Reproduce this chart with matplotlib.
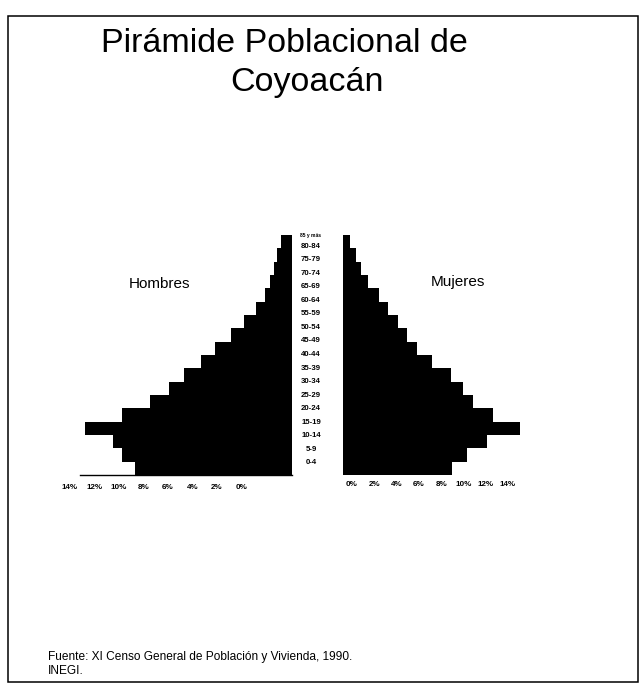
import matplotlib
matplotlib.use("Agg")
import matplotlib.pyplot as plt
from matplotlib.patches import Rectangle

plt.rcParams['font.family'] = ['Liberation Sans', 'DejaVu Sans']

# ---- data (percent) ----
grupos = ["0-4", "5-9", "10-14", "15-19", "20-24", "25-29", "30-34", "35-39",
          "40-44", "45-49", "50-54", "55-59", "60-64", "65-69", "70-74",
          "75-79", "80-84", "85 y más"]
hombres = [10.4, 11.2, 11.8, 13.7, 11.2, 9.4, 8.1, 7.1, 6.0, 5.1, 4.0, 3.2,
           2.4, 1.8, 1.45, 1.2, 1.0, 0.7]
mujeres = [7.2, 8.2, 9.5, 11.7, 9.9, 8.6, 7.9, 7.1, 5.9, 4.9, 4.2, 3.6,
           3.0, 2.4, 1.65, 1.2, 0.85, 0.45]
ticks_pct = [0, 2, 4, 6, 8, 10, 12, 14]
tick_labels = [f"{t}%" for t in ticks_pct]

W, H = 644, 684
fig = plt.figure(figsize=(W / 100, H / 100), dpi=100)


def box(x0, y0, x1, y1):
    return [x0 / W, 1 - y1 / H, (x1 - x0) / W, (y1 - y0) / H]


ypos = list(range(len(grupos)))

# left (Hombres)
axL = fig.add_axes(box(80, 235, 292, 475))
axL.barh(ypos, hombres, height=1.0, color='black', edgecolor='none')
axL.set_xlim(14, 0)
axL.set_ylim(-0.5, len(grupos) - 0.5)
for s in ['top', 'right', 'left']:
    axL.spines[s].set_visible(False)
axL.spines['bottom'].set_linewidth(1.0)
axL.set_xticks([])
axL.set_yticks([])
axL.patch.set_alpha(0)

# right (Mujeres)
axR = fig.add_axes(box(343, 235, 555, 475))
axR.barh(ypos, mujeres, height=1.0, color='black', edgecolor='none')
axR.set_xlim(0, 14)
axR.set_ylim(-0.5, len(grupos) - 0.5)
for s in axR.spines.values():
    s.set_visible(False)
axR.set_xticks([])
axR.set_yticks([])
axR.patch.set_alpha(0)

# tick label rows
for (x0, x1, yb, lim) in [(70, 241.5, 483, (14, 0)), (352, 508, 480, (0, 14))]:
    ax = fig.add_axes(box(x0, yb - 1, x1, yb))
    ax.set_xlim(*lim)
    ax.set_xticks(ticks_pct)
    ax.set_xticklabels(tick_labels, fontsize=5.8, fontweight='bold')
    ax.tick_params(axis='x', length=0, pad=1)
    ax.set_yticks([])
    for s in ax.spines.values():
        s.set_visible(False)
    ax.patch.set_alpha(0)

# age labels (center column)
axM = fig.add_axes(box(296, 235, 326, 475))
axM.set_xlim(0, 1)
axM.set_ylim(-0.885, 16.815)
axM.axis('off')
for i, g in enumerate(grupos):
    if i == len(grupos) - 1:
        axM.text(0.5, i - 0.25, g, ha='center', va='center', fontsize=3.6,
                 fontweight='bold')
    else:
        axM.text(0.5, i, g, ha='center', va='center', fontsize=5.6,
                 fontweight='bold')

# titles and labels
fig.text(284 / W, 1 - 43 / H, "Pirámide Poblacional de", ha='center',
         va='center', fontsize=24.5)
fig.text(307 / W, 1 - 82 / H, "Coyoacán", ha='center', va='center',
         fontsize=24.5)
fig.text(159.5 / W, 1 - 284 / H, "Hombres", ha='center', va='center',
         fontsize=11)
fig.text(458 / W, 1 - 282 / H, "Mujeres", ha='center', va='center',
         fontsize=11)
fig.text(48 / W, 1 - 657 / H, "Fuente: XI Censo General de Población y Vivienda, 1990.",
         ha='left', va='center', fontsize=8.6)
fig.text(48 / W, 1 - 671 / H, "INEGI.", ha='left', va='center', fontsize=8.6)

# frame
fig.add_artist(Rectangle((8 / W, 1 - 682 / H), 630 / W, 666 / H,
                         transform=fig.transFigure, fill=False,
                         edgecolor='black', linewidth=1.1))

fig.savefig("out.png", dpi=100)
